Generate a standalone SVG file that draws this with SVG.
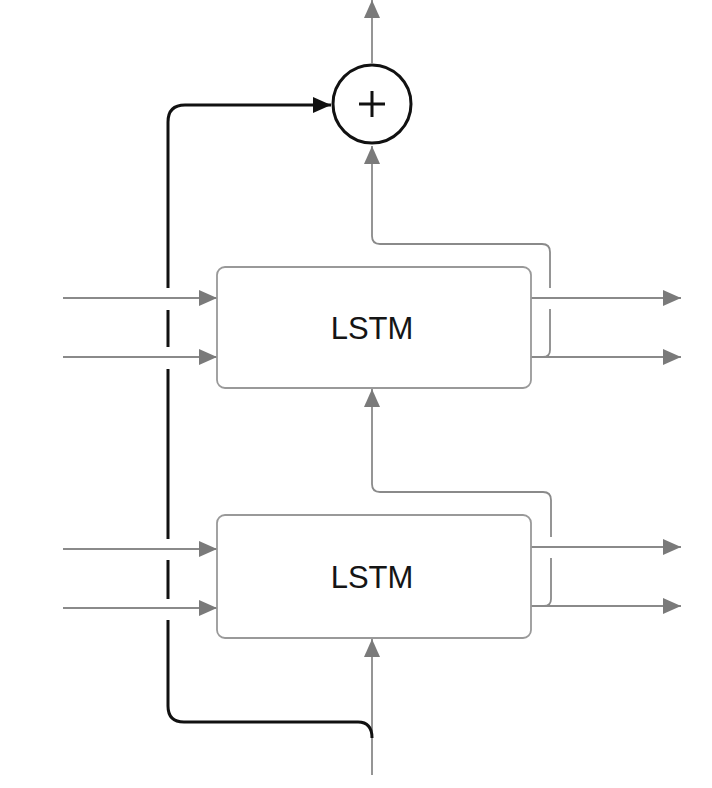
<svg xmlns="http://www.w3.org/2000/svg" width="712" height="788" viewBox="0 0 712 788">
<defs>
<marker id="ag" viewBox="0 0 18 16" refX="18" refY="8" markerWidth="18" markerHeight="16" markerUnits="userSpaceOnUse" orient="auto"><path d="M0,0 L18,8 L0,16 Z" fill="#7a7a7a"/></marker>
<marker id="ab" viewBox="0 0 18 16" refX="18" refY="8" markerWidth="18" markerHeight="16" markerUnits="userSpaceOnUse" orient="auto"><path d="M0,0 L18,8 L0,16 Z" fill="#111"/></marker>
<style>
.g{fill:none;stroke:#8a8a8a;stroke-width:1.8}
.k{fill:none;stroke:#111;stroke-width:3}
.box{fill:#fff;stroke:#999;stroke-width:1.8}
.t{font-family:"Liberation Sans",Arial,sans-serif;font-size:31px;fill:#151515;text-anchor:middle}
</style>
</defs>
<rect width="712" height="788" fill="#fff"/>
<g id="connectors">
<line class="g" x1="372" y1="63" x2="372" y2="0" marker-end="url(#ag)"/>
<path class="g" d="M531,357 L543,357 Q550,357 550,350 L550,309 M550,288 L550,252 Q550,244 542,244 L380,244 Q372,244 372,236 L372,146" marker-end="url(#ag)"/>
<line class="g" x1="531" y1="298" x2="681" y2="298" marker-end="url(#ag)"/>
<line class="g" x1="531" y1="357" x2="681" y2="357" marker-end="url(#ag)"/>
<line class="g" x1="63" y1="298" x2="217" y2="298" marker-end="url(#ag)"/>
<line class="g" x1="63" y1="357" x2="217" y2="357" marker-end="url(#ag)"/>
<path class="g" d="M531,606 L544,606 Q551,606 551,599 L551,558 M551,537 L551,500 Q551,492 543,492 L380,492 Q372,492 372,484 L372,389" marker-end="url(#ag)"/>
<line class="g" x1="531" y1="547" x2="681" y2="547" marker-end="url(#ag)"/>
<line class="g" x1="531" y1="606" x2="681" y2="606" marker-end="url(#ag)"/>
<line class="g" x1="63" y1="549" x2="217" y2="549" marker-end="url(#ag)"/>
<line class="g" x1="63" y1="608" x2="217" y2="608" marker-end="url(#ag)"/>
<line class="g" x1="372" y1="775" x2="372" y2="639" marker-end="url(#ag)"/>
<path class="k" d="M168,288 L168,122 Q168,105 185,105 L331,105" marker-end="url(#ab)"/>
<path class="k" d="M168,310 L168,347 M168,369 L168,539 M168,560 L168,599 M168,620 L168,706 Q168,722 184,722 L358,722 Q372,722 372,738"/>
</g>
<g id="plus">
<circle cx="372" cy="104" r="39" fill="#fff" stroke="#111" stroke-width="3"/>
<path d="M359,104 L385,104 M372,91 L372,117" stroke="#111" stroke-width="3" fill="none"/>
</g>
<g id="lstm-upper">
<rect class="box" x="217" y="267" width="314" height="121" rx="8"/>
<text class="t" x="372" y="339">LSTM</text>
</g>
<g id="lstm-lower">
<rect class="box" x="217" y="515" width="314" height="123" rx="8"/>
<text class="t" x="372" y="588">LSTM</text>
</g>
</svg>
